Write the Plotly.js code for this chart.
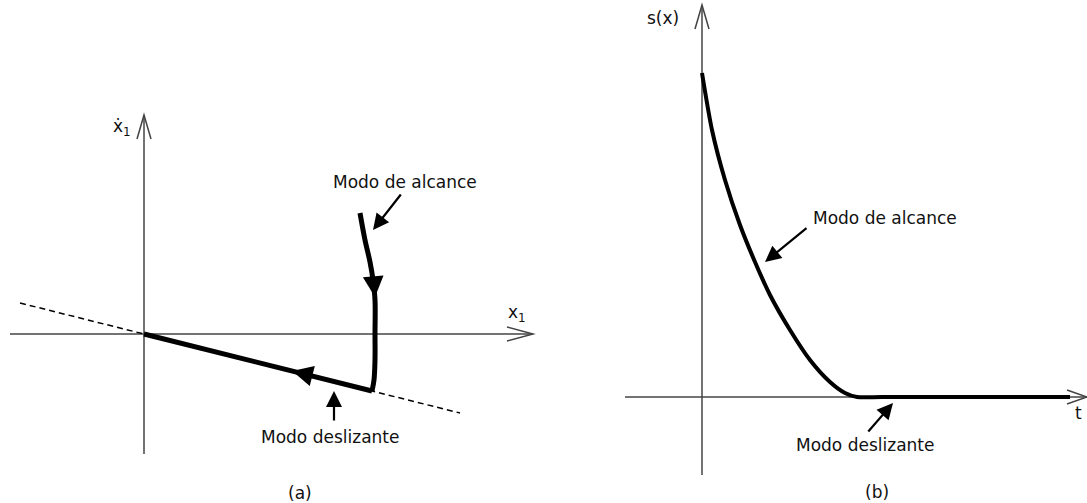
<!DOCTYPE html>
<html>
<head>
<meta charset="utf-8">
<script src="https://cdn.plot.ly/plotly-3.0.1.min.js"></script>
<style>html,body{margin:0;padding:0;background:#fff;}#chart{width:1087px;height:503px;}</style>
</head>
<body>
<div id="chart"></div>
<script>
// (a) phase plane: sliding surface x2 = -lambda * x1
const lambda = 0.25;
const surfaceX1 = [-1.24, 3.16];
// reaching phase, then sliding along the surface to the origin
const reachX1 = [2.16, 2.21, 2.26, 2.29, 2.31, 2.31, 2.31, 2.30, 2.28];
const reachX2 = [1.21, 0.94, 0.72, 0.54, 0.34, 0.00, -0.26, -0.46, -0.57];
const slideX1 = [2.28, 0.00];

// (b) s(x) over time
const timeT = [0.00, 0.10, 0.23, 0.38, 0.53, 0.68, 0.88, 1.08, 1.28, 1.43, 1.55, 1.80, 3.68];
const sValues = [3.24, 2.67, 2.17, 1.72, 1.35, 1.02, 0.67, 0.37, 0.15, 0.04, 0.00, 0.00, 0.00];

const labelReach = 'Modo de alcance';
const labelSlide = 'Modo deslizante';

const FONT = {family: 'DejaVu Sans, Verdana, sans-serif', size: 17, color: '#111'};
const AXIS_COLOR = '#444';

const traces = [
  {x: surfaceX1, y: surfaceX1.map(v => -lambda * v), xaxis: 'x', yaxis: 'y',
   mode: 'lines', line: {color: '#000', width: 1.5, dash: '6px,4px'}, hoverinfo: 'skip'},
  {x: reachX1, y: reachX2, xaxis: 'x', yaxis: 'y', mode: 'lines',
   line: {color: '#000', width: 5, shape: 'spline'}, hoverinfo: 'skip'},
  {x: slideX1, y: slideX1.map(v => -lambda * v), xaxis: 'x', yaxis: 'y', mode: 'lines',
   line: {color: '#000', width: 5}, hoverinfo: 'skip'},
  {x: timeT, y: sValues, xaxis: 'x2', yaxis: 'y2', mode: 'lines',
   line: {color: '#000', width: 4, shape: 'spline', smoothing: 0.7}, hoverinfo: 'skip'}
];

function axisLine(xr, yr, x0, y0, x1, y1) {
  return {type: 'line', xref: xr, yref: yr, x0, y0, x1, y1,
          line: {color: AXIS_COLOR, width: 1.5}, layer: 'below'};
}
function openHead(xr, yr, path) {
  return {type: 'path', xref: xr, yref: yr, path, line: {color: AXIS_COLOR, width: 1.5}};
}

const shapes = [
  // (a) axes
  axisLine('x', 'y', -1.34, 0, 3.89, 0),
  openHead('x', 'y', 'M 3.63 0.07 L 3.89 0 L 3.63 -0.07'),
  axisLine('x', 'y', 0, -1.2, 0, 2.19),
  openHead('x', 'y', 'M -0.07 1.95 L 0 2.19 L 0.07 1.95'),
  // (b) axes
  axisLine('x2', 'y2', -0.77, 0, 3.85, 0),
  openHead('x2', 'y2', 'M 3.65 0.07 L 3.85 0 L 3.65 -0.07'),
  axisLine('x2', 'y2', 0, -0.78, 0, 3.92),
  openHead('x2', 'y2', 'M -0.07 3.68 L 0 3.92 L 0.07 3.68')
];

function text(xr, yr, x, y, t) {
  return {xref: xr, yref: yr, x, y, text: t, showarrow: false, font: FONT};
}
// filled arrow from (ax, ay) to the tip (x, y)
function pointer(xr, yr, x, y, ax, ay, w, size) {
  return {xref: xr, yref: yr, axref: xr, ayref: yr, x, y, ax, ay, text: '',
          showarrow: true, arrowhead: 2, arrowsize: size || 1.45, arrowwidth: w || 2.2,
          arrowcolor: '#000'};
}

// arrowheads placed on the trajectory itself
const slideTip = slideX1[0] + (slideX1[1] - slideX1[0]) * 0.35;
const slideTail = slideX1[0] + (slideX1[1] - slideX1[0]) * 0.22;

const annotations = [
  // (a)
  text('x', 'y', 3.73, 0.21, 'x<sub>1</sub>'),
  text('x', 'y', -0.22, 2.07, 'ẋ<sub>1</sub>'),
  text('x', 'y', 2.61, 1.52, labelReach),
  pointer('x', 'y', 2.29, 1.04, 2.58, 1.41),
  text('x', 'y', 1.86, -1.03, labelSlide),
  pointer('x', 'y', 1.90, -0.57, 1.90, -0.88),
  pointer('x', 'y', reachX1[4], reachX2[4] + 0.03, reachX1[3], reachX2[3] + 0.06, 3.6, 1.15),
  pointer('x', 'y', slideTip, -lambda * slideTip, slideTail, -lambda * slideTail, 3.6, 1.15),
  text('x', 'y', 1.56, -1.59, '(a)'),
  // (b)
  text('x2', 'y2', -0.39, 3.79, 's(x)'),
  text('x2', 'y2', 3.76, -0.16, 't'),
  text('x2', 'y2', 1.83, 1.79, labelReach),
  pointer('x2', 'y2', 0.63, 1.35, 1.06, 1.70),
  text('x2', 'y2', 1.63, -0.48, labelSlide),
  pointer('x2', 'y2', 1.91, -0.06, 1.65, -0.36),
  text('x2', 'y2', 1.75, -0.95, '(b)')
];

const hidden = {visible: false, fixedrange: true};
const layout = {
  width: 1087, height: 503,
  margin: {l: 0, r: 0, t: 0, b: 0},
  paper_bgcolor: '#fff', plot_bgcolor: '#fff',
  showlegend: false,
  xaxis: Object.assign({domain: [0, 540 / 1087], range: [-1.44, 3.96]}, hidden),
  yaxis: Object.assign({domain: [0, 1], range: [-1.69, 3.34]}, hidden),
  xaxis2: Object.assign({domain: [560 / 1087, 1], range: [-1.42, 3.85], anchor: 'y2'}, hidden),
  yaxis2: Object.assign({domain: [0, 1], range: [-1.06, 3.97], anchor: 'x2'}, hidden),
  shapes, annotations,
  font: FONT
};

Plotly.newPlot('chart', traces, layout, {staticPlot: true, displayModeBar: false});
</script>
</body>
</html>
